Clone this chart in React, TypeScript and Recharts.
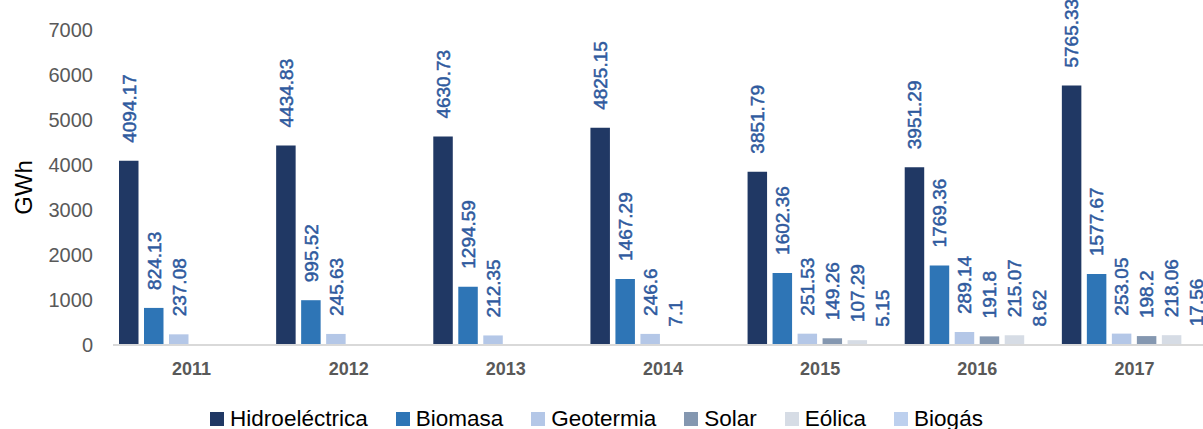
import React from "react";
import { BarChart, Bar, XAxis, YAxis, Legend, LabelList } from "recharts";

// años y producción por fuente (GWh)
const years = ["2011", "2012", "2013", "2014", "2015", "2016", "2017"];
const hidroelectrica = [4094.17, 4434.83, 4630.73, 4825.15, 3851.79, 3951.29, 5765.33];
const biomasa = [824.13, 995.52, 1294.59, 1467.29, 1602.36, 1769.36, 1577.67];
const geotermia = [237.08, 245.63, 212.35, 246.6, 251.53, 289.14, 253.05];
const solar = [null, null, null, 7.1, 149.26, 191.8, 198.2];
const eolica = [null, null, null, null, 107.29, 215.07, 218.06];
const biogas = [null, null, null, null, 5.15, 8.62, 17.56];
const yTicks = [0, 1000, 2000, 3000, 4000, 5000, 6000, 7000];

const series = [
  { key: "hidro", name: "Hidroeléctrica", color: "#203864" },
  { key: "biomasa", name: "Biomasa", color: "#2E75B6" },
  { key: "geotermia", name: "Geotermia", color: "#B4C7E7" },
  { key: "solar", name: "Solar", color: "#8497B0" },
  { key: "eolica", name: "Eólica", color: "#D6DCE5" },
  { key: "biogas", name: "Biogás", color: "#BDD0EE" },
];

const data = years.map((year, i) => ({
  year,
  hidro: hidroelectrica[i],
  biomasa: biomasa[i],
  geotermia: geotermia[i],
  solar: solar[i],
  eolica: eolica[i],
  biogas: biogas[i],
}));

const FONT = '"Liberation Sans", Arial, sans-serif';
const LABEL_BLUE = "#2F5A9E";

const renderValue = (props: any) => {
  const { x, y, width, value } = props;
  if (value === null || value === undefined) return null;
  const cx = Number(x) + Number(width) / 2;
  const cy = Number(y) - 18;
  return (
    <text
      x={cx}
      y={cy}
      dy="0.36em"
      transform={`rotate(-90 ${cx} ${cy})`}
      textAnchor="start"
      fill={LABEL_BLUE}
      stroke={LABEL_BLUE}
      strokeWidth={0.5}
      fontSize={19}
      fontFamily={FONT}
    >
      {value}
    </text>
  );
};

// leyenda propia, en el orden de las series (no alfabético)
const renderLegend = () => (
  <div
    style={{
      height: 24,
      display: "flex",
      justifyContent: "center",
      paddingRight: 20,
      fontFamily: FONT,
      fontSize: 22.5,
      lineHeight: "24px",
      color: "#000",
    }}
  >
    {series.map((s, i) => (
      <div
        key={s.key}
        style={{
          display: "flex",
          alignItems: "center",
          marginRight: i < series.length - 1 ? 28 : 0,
          marginTop: 3,
        }}
      >
        <span
          style={{
            width: 14,
            height: 14,
            background: s.color,
            marginRight: 6,
            display: "inline-block",
          }}
        />
        <span>{s.name}</span>
      </div>
    ))}
  </div>
);

const renderYLabel = (props: any) => {
  const vb = props.viewBox || { x: 0, y: 30, height: 315 };
  const cx = 23;
  const cy = vb.y + vb.height / 2;
  return (
    <text
      x={cx}
      y={cy}
      dy="0.36em"
      transform={`rotate(-90 ${cx} ${cy})`}
      textAnchor="middle"
      fill="#000"
      fontSize={24}
      fontFamily={FONT}
    >
      GWh
    </text>
  );
};

export default function App() {
  return (
    <div
      style={{
        position: "absolute",
        left: 0,
        top: 0,
        width: 1203,
        height: 429,
        overflow: "hidden",
        background: "#fff",
      }}
    >
      <BarChart
        width={1213}
        height={429}
        data={data}
        margin={{ top: 30, right: 0, bottom: 0, left: 0 }}
        barSize={19.5}
        barGap={5.5}
      >
        <XAxis
          dataKey="year"
          height={60}
          tickLine={false}
          tickSize={0}
          tickMargin={17}
          axisLine={{ stroke: "#D9D9D9", strokeWidth: 2 }}
          tick={{ fill: "#595959", fontSize: 18, fontWeight: "bold", fontFamily: FONT }}
        />
        <YAxis
          width={113}
          domain={[0, 7000]}
          ticks={yTicks}
          axisLine={false}
          tickLine={false}
          tickSize={0}
          tickMargin={20}
          tick={{ fill: "#595959", fontSize: 20, fontFamily: FONT }}
          label={{ content: renderYLabel }}
        />
        <Legend verticalAlign="bottom" content={renderLegend} />
        {series.map((s) => (
          <Bar
            key={s.key}
            dataKey={s.key}
            name={s.name}
            fill={s.color}
            isAnimationActive={false}
          >
            <LabelList dataKey={s.key} content={renderValue} />
          </Bar>
        ))}
      </BarChart>
    </div>
  );
}
